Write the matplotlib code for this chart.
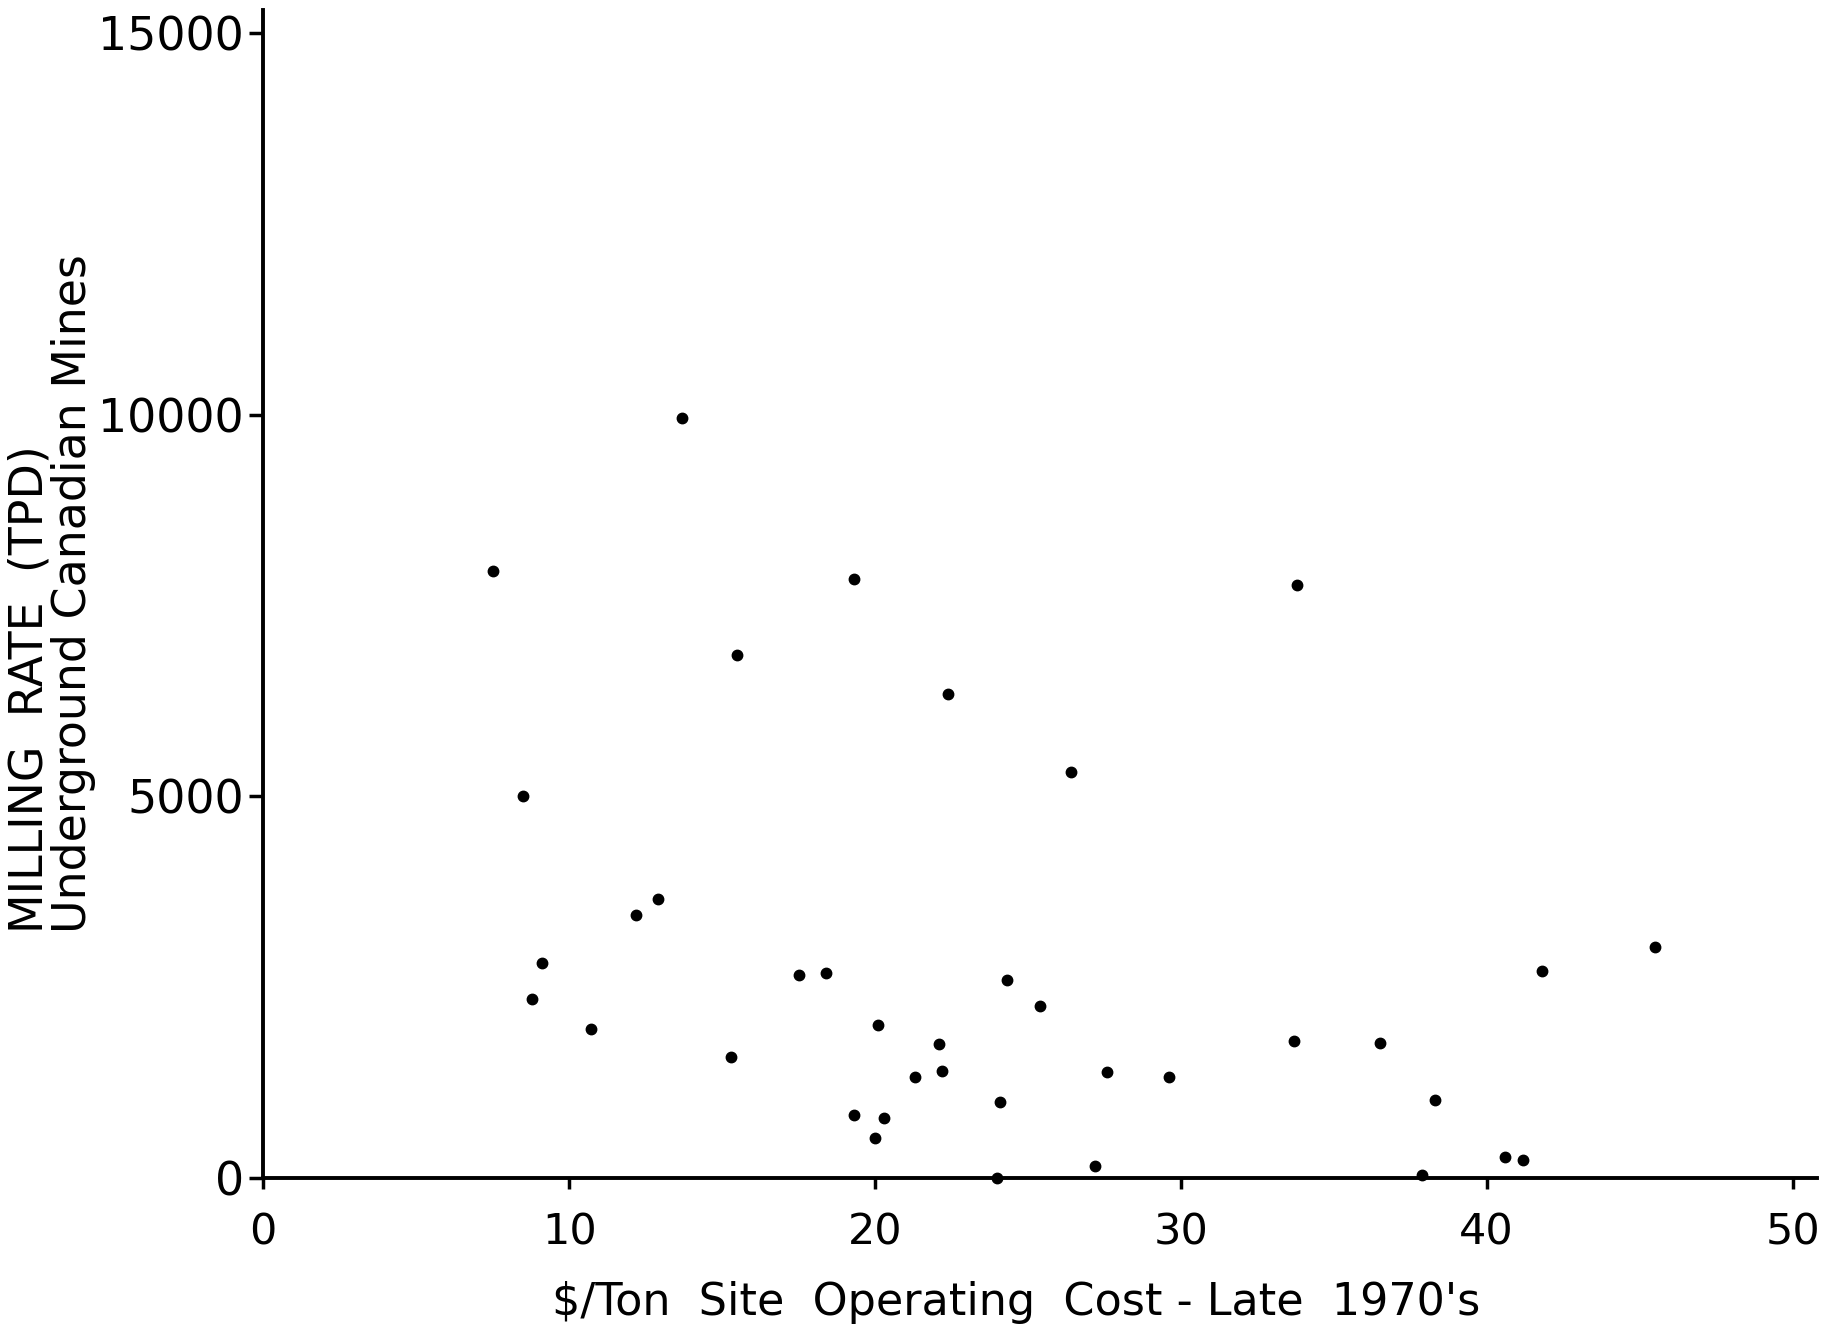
import matplotlib
matplotlib.use('Agg')
import matplotlib.pyplot as plt

# $/ton site operating cost vs milling rate, underground Canadian mines
cost = [7.5, 8.5, 9.1, 8.8, 10.7, 12.2, 12.9, 13.7, 15.3, 15.5,
        17.5, 18.4, 19.3, 19.3, 20.1, 20.0, 20.3, 21.3, 22.1, 22.2,
        22.4, 24.1, 24.0, 24.3, 25.4, 26.4, 27.2, 27.6, 29.6, 33.8,
        33.7, 36.5, 38.3, 37.9, 40.6, 41.2, 41.8, 45.5]
tpd = [7950, 5000, 2820, 2350, 1950, 3450, 3660, 9950, 1590, 6850,
       2660, 2690, 7850, 820, 2000, 520, 790, 1320, 1750, 1400,
       6340, 1000, 0, 2590, 2250, 5320, 160, 1390, 1320, 7770,
       1790, 1770, 1020, 40, 280, 230, 2710, 3020]

x_ticks = [0, 10, 20, 30, 40, 50]
y_ticks = [0, 5000, 10000, 15000]
y_tick_labels = ['0', '5000', '10000', '15000']

plt.rcParams['font.family'] = ['DejaVu Sans']

fig = plt.figure(figsize=(18.41, 13.32), dpi=100)
ax = fig.add_axes([0.143, 0.1156, 0.844, 0.877])

ax.plot(cost, tpd, 'o', color='black', markersize=7.5, linestyle='none',
        clip_on=False)

ax.set_xlim(0, 50.8)
ax.set_ylim(0, 15300)

for side in ['top', 'right']:
    ax.spines[side].set_visible(False)
for side in ['left', 'bottom']:
    ax.spines[side].set_linewidth(2.8)
    ax.spines[side].set_color('black')

ax.set_xticks(x_ticks)
ax.set_yticks(y_ticks)
ax.set_yticklabels(y_tick_labels)
ax.tick_params(axis='x', direction='out', length=8, width=2.5, pad=16,
               labelsize=31)
ax.tick_params(axis='y', direction='out', length=10, width=2.5, pad=4,
               labelsize=33)

ax.set_xlabel("$/Ton  Site  Operating  Cost - Late  1970's", fontsize=32)
ax.xaxis.set_label_coords(0.4845, -0.088)
ax.set_ylabel("MILLING  RATE  (TPD)\nUnderground Canadian Mines",
              fontsize=33, linespacing=0.95, multialignment='left')
ax.yaxis.set_label_coords(-0.1075, 0.5)

fig.savefig('out.png', dpi=100)
